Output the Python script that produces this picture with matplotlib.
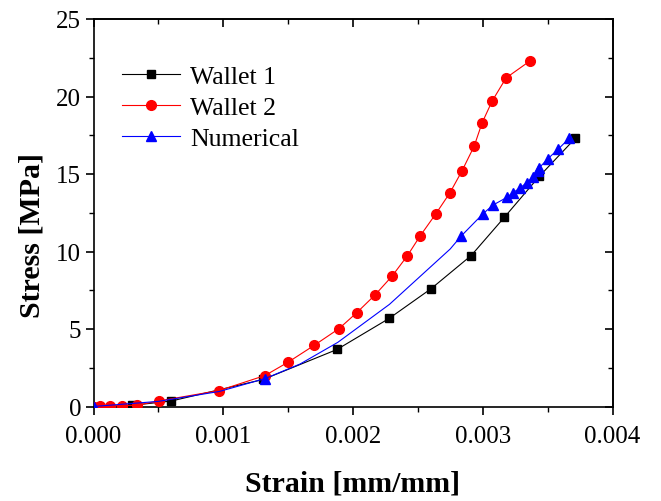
import matplotlib
matplotlib.use("Agg")
import matplotlib.pyplot as plt
from matplotlib.lines import Line2D
from matplotlib.ticker import MultipleLocator

# strain values in units of 1e-3 mm/mm, stress in MPa
wallet1_strain = [0, 0.30, 0.598, 1.31, 1.877, 2.278, 2.602, 2.911, 3.166, 3.435, 3.713]
wallet1_stress = [0, 0.08, 0.35, 1.75, 3.68, 5.68, 7.6, 9.74, 12.2, 14.84, 17.3]

wallet2_strain = [0, 0.05, 0.127, 0.22, 0.335, 0.505, 0.968, 1.322, 1.5, 1.70, 1.893, 2.03,
                  2.17, 2.30, 2.417, 2.517, 2.64, 2.748, 2.84, 2.934, 2.995, 3.072, 3.18, 3.365]
wallet2_stress = [0, 0.05, 0.06, 0.06, 0.08, 0.36, 1.03, 2.0, 2.86, 3.94, 5.03, 6.06,
                  7.2, 8.4, 9.7, 11.0, 12.45, 13.8, 15.2, 16.8, 18.3, 19.7, 21.2, 22.3]

# numerical curve (line trace) and its marked points
num_curve_strain = [0, 0.5, 0.97, 1.322, 1.592, 1.883, 2.281, 2.749, 2.834, 3.004, 3.08, 3.188,
                    3.234, 3.288, 3.34, 3.386, 3.425, 3.435, 3.504, 3.581, 3.666]
num_curve_stress = [0, 0.33, 0.97, 1.8, 2.74, 4.14, 6.59, 10.16, 11.0, 12.45, 13.0, 13.5,
                    13.8, 14.1, 14.45, 14.8, 15.2, 15.4, 16.0, 16.6, 17.3]
num_strain = [0, 1.322, 2.834, 3.004, 3.08, 3.188, 3.234, 3.288, 3.34, 3.386, 3.425, 3.435,
              3.504, 3.581, 3.666]
num_stress = [0, 1.8, 11.0, 12.45, 13.0, 13.5, 13.8, 14.1, 14.45, 14.8, 15.2, 15.4,
              16.0, 16.6, 17.3]

x_ticks = [0, 0.001, 0.002, 0.003, 0.004]
x_tick_labels = ["0.000", "0.001", "0.002", "0.003", "0.004"]
y_ticks = [0, 5, 10, 15, 20, 25]

plt.rcParams['font.family'] = ['Liberation Serif', 'DejaVu Serif']

fig = plt.figure(figsize=(6.61, 5.02), dpi=100)
ax = fig.add_axes([93.5 / 661, 1 - 407.5 / 502, (612.5 - 93.5) / 661, (407.5 - 20) / 502])


def scaled(vals):
    return [v * 1e-3 for v in vals]


ax.plot(scaled(wallet1_strain), wallet1_stress, color='black', lw=0.8,
        marker='s', ms=6, zorder=3)
ax.plot(scaled(wallet2_strain), wallet2_stress, color='red', lw=0.8,
        marker='o', ms=7, zorder=4)
ax.plot(scaled(num_curve_strain), num_curve_stress, color='blue', lw=0.8, zorder=5)
ax.plot(scaled(num_strain), num_stress, color='blue', lw=0, marker='^', ms=7, zorder=5)

handles = [
    Line2D([], [], color='black', lw=0.8, marker='s', ms=6),
    Line2D([], [], color='red', lw=0.8, marker='o', ms=7),
    Line2D([], [], color='blue', lw=0.8, marker='^', ms=7),
]
ax.legend(handles, ['Wallet 1', 'Wallet 2', 'Numerical'], loc='upper left',
          bbox_to_anchor=(0.035, 0.907), frameon=False, fontsize=18.5,
          handlelength=2.25, handletextpad=0.4, labelspacing=0.3, borderaxespad=0)

ax.set_xlim(0, 0.004)
ax.set_ylim(0, 25)
ax.set_xticks(x_ticks)
ax.set_xticklabels(x_tick_labels)
ax.set_yticks(y_ticks)
ax.xaxis.set_minor_locator(MultipleLocator(0.0005))
ax.yaxis.set_minor_locator(MultipleLocator(2.5))
ax.tick_params(which='major', direction='out', length=6, width=1.2, labelsize=18)
ax.tick_params(axis='x', which='major', pad=7)
ax.tick_params(axis='y', which='major', pad=3)
ax.tick_params(which='minor', direction='out', length=3.5, width=1.0)

# mirrored axes on top and right with inward ticks
top = ax.secondary_xaxis('top')
top.set_xticks(x_ticks)
top.xaxis.set_minor_locator(MultipleLocator(0.0005))
top.tick_params(which='major', direction='in', length=6, width=1.2, labeltop=False)
top.tick_params(which='minor', direction='in', length=3.5, width=1.0)
right = ax.secondary_yaxis('right')
right.set_yticks(y_ticks)
right.yaxis.set_minor_locator(MultipleLocator(2.5))
right.tick_params(which='major', direction='in', length=6, width=1.2, labelright=False)
right.tick_params(which='minor', direction='in', length=3.5, width=1.0)

for sp in ax.spines.values():
    sp.set_linewidth(1.2)
for sp in top.spines.values():
    sp.set_linewidth(1.2)
for sp in right.spines.values():
    sp.set_linewidth(1.2)

ax.set_xlabel('Strain [mm/mm]', fontsize=21.5, fontweight='bold')
ax.set_ylabel('Stress [MPa]', fontsize=21.5, fontweight='bold')
ax.xaxis.set_label_coords(0.5, -0.163)
ax.yaxis.set_label_coords(-0.093, 0.445)

fig.savefig('out.png', dpi=100)
